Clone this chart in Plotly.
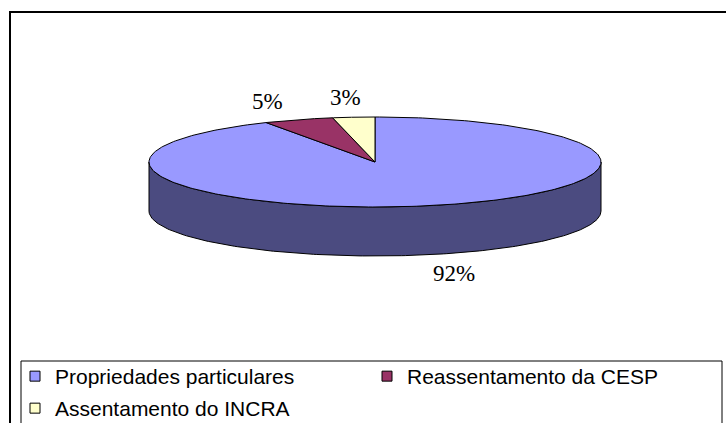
import numpy as np
import plotly.graph_objects as go

# ---- data ----
categories = ["Propriedades particulares", "Reassentamento da CESP", "Assentamento do INCRA"]
values = [92, 5, 3]
value_labels = ["92%", "5%", "3%"]
top_colors = ["#9999FF", "#993366", "#FFFFCC"]
side_colors = ["#4B4B80", "#4D1A33", "#80806A"]

# ---- geometry (pixel space) ----
W, H = 726, 423
cx, cy, rx, ry, depth = 375, 162, 226, 45, 49
label_kx, label_ky = 1.40, 1.44

fracs = np.array(values, dtype=float) / sum(values)
ends = 90 - 360 * np.cumsum(fracs)
starts = np.concatenate([[90.0], ends[:-1]])


def ell(theta_deg, dy=0.0):
    t = np.radians(theta_deg)
    return cx + rx * np.cos(t), cy - ry * np.sin(t) + dy


fig = go.Figure()

# side walls (only the front half is visible)
for i in range(len(values)):
    a0, a1 = ends[i], starts[i]
    for n in range(-3, 3):
        f0, f1 = 180 + 360 * n, 360 + 360 * n
        lo, hi = max(a0, f0), min(a1, f1)
        if hi - lo <= 1e-9:
            continue
        th = np.linspace(lo, hi, 200)
        xt, yt = ell(th)
        xb, yb = ell(th[::-1], depth)
        xs = np.concatenate([xt, xb, xt[:1]])
        ys = np.concatenate([yt, yb, yt[:1]])
        fig.add_trace(go.Scatter(x=xs, y=ys, mode="lines", fill="toself",
                                 fillcolor=side_colors[i],
                                 line=dict(color="black", width=1),
                                 hoverinfo="skip", showlegend=False))

# top faces
for i in range(len(values)):
    th = np.linspace(starts[i], ends[i], 300)
    xa, ya = ell(th)
    xs = np.concatenate([[cx], xa, [cx]])
    ys = np.concatenate([[cy], ya, [cy]])
    fig.add_trace(go.Scatter(x=xs, y=ys, mode="lines", fill="toself",
                             fillcolor=top_colors[i],
                             line=dict(color="black", width=1),
                             hoverinfo="skip", showlegend=False))

# data labels
for i in range(len(values)):
    mid = (starts[i] + ends[i]) / 2
    t = np.radians(mid)
    lx = cx + rx * label_kx * np.cos(t)
    ly = cy - ry * label_ky * np.sin(t) + (depth if np.sin(t) < 0 else 0)
    fig.add_annotation(x=lx, y=ly, text=value_labels[i], showarrow=False,
                       xref="x", yref="y",
                       font=dict(family="Liberation Serif, Times New Roman, serif",
                                 size=23, color="black"))

# legend entries
for i, name in enumerate(categories):
    fig.add_trace(go.Scatter(x=[None], y=[None], mode="markers", name=name,
                             marker=dict(symbol="square", size=10, color=top_colors[i],
                                         line=dict(color="black", width=1)),
                             legend="legend" if i < 2 else "legend2"))

legend_font = dict(family="Liberation Sans, Arial, sans-serif", size=21, color="black")

fig.update_layout(
    width=W, height=H, autosize=False,
    margin=dict(l=0, r=0, t=0, b=0, autoexpand=False),
    paper_bgcolor="white", plot_bgcolor="white",
    xaxis=dict(range=[0, W], visible=False, fixedrange=True),
    yaxis=dict(range=[H, 0], visible=False, fixedrange=True),
    showlegend=True,
    legend=dict(x=15 / W, y=1 - 356 / H, xanchor="left", yanchor="top",
                orientation="h", font=legend_font, entrywidth=307,
                bgcolor="rgba(0,0,0,0)", borderwidth=0, traceorder="normal"),
    legend2=dict(x=15 / W, y=1 - 388 / H, xanchor="left", yanchor="top",
                 orientation="h", font=legend_font,
                 bgcolor="rgba(0,0,0,0)", borderwidth=0),
    shapes=[
        dict(type="rect", xref="x", yref="y", x0=10, y0=12, x1=W + 5, y1=H + 5,
             line=dict(color="black", width=2), layer="below"),
        dict(type="rect", xref="x", yref="y", x0=21, y0=361, x1=722, y1=H + 5,
             line=dict(color="black", width=1), layer="below"),
    ],
)

fig.write_html("out.html")
